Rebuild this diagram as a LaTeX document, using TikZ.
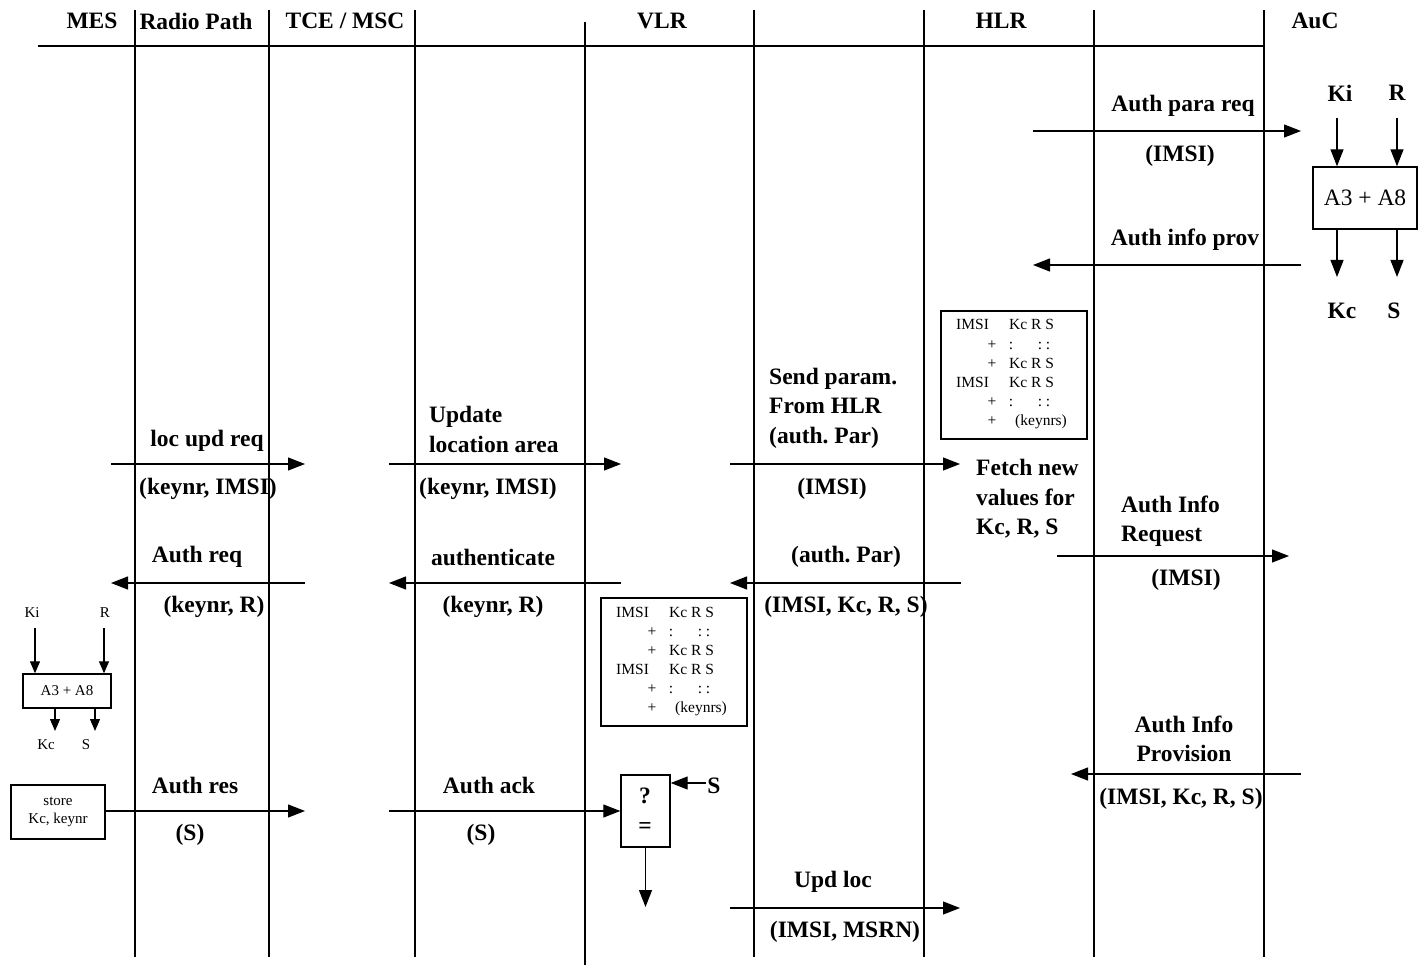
\documentclass[tikz,border=0pt]{standalone}
\usepackage{fontspec}
\setmainfont{Liberation Serif}
\usetikzlibrary{arrows.meta}
\frenchspacing
\newcommand\kctable[3]{%
 \begin{scope}[shift={(#2,#3)}]
  \node[tblbox, anchor=north west] (#1) at (0,0) {};
  \node[tbl,anchor=west] (#1a) at (16,16) {IMSI};
  \node[tbl,anchor=west] (#1b) at (69,16) {Kc R S};
  \node[tbl] (#1c) at (52,35) {+};
  \node[tbl] (#1d) at (71,35) {:};
  \node[tbl] (#1e) at (100,35) {:};
  \node[tbl] (#1f) at (108,35) {:};
  \node[tbl] (#1g) at (52,54) {+};
  \node[tbl,anchor=west] (#1h) at (69,54) {Kc R S};
  \node[tbl,anchor=west] (#1i) at (16,73) {IMSI};
  \node[tbl,anchor=west] (#1j) at (69,73) {Kc R S};
  \node[tbl] (#1k) at (52,92) {+};
  \node[tbl] (#1l) at (71,92) {:};
  \node[tbl] (#1m) at (100,92) {:};
  \node[tbl] (#1n) at (108,92) {:};
  \node[tbl] (#1o) at (52,111) {+};
  \node[tbl,anchor=west] (#1p) at (75,111) {(keynrs)};
 \end{scope}}
\begin{document}
\begin{tikzpicture}[x=1pt,y=-1pt,
  lbl/.style={font=\fontsize{23.5}{29.5}\selectfont\bfseries, inner sep=0pt, align=center},
  lbll/.style={lbl, align=left},
  reg/.style={font=\fontsize{23.5}{28}\selectfont, inner sep=0pt},
  small/.style={font=\fontsize{15}{18}\selectfont, inner sep=0pt, align=center},
  tbl/.style={font=\fontsize{15.5}{18}\selectfont, inner sep=0pt, text height=11pt, text depth=3pt},
  tblbox/.style={draw, line width=1.6pt, minimum width=146pt, minimum height=128pt, inner sep=0pt},
  box/.style={draw, line width=1.4pt, inner sep=0pt},
  msg/.style={line width=1.2pt, -{Triangle[length=17pt,width=13pt]}},
  smsg/.style={line width=1.2pt, -{Triangle[length=12pt,width=10pt]}},
  life/.style={line width=1.2pt},
  ]
\useasboundingbox (0,0) rectangle (1418,965);
% lifelines
\foreach \x/\n in {135/a,269/b,415/c,754/e,924/f,1094/g,1264/h}{
  \coordinate (top\n) at (\x,10);
  \coordinate (bot\n) at (\x,957);
  \draw[life] (top\n) -- (bot\n);
}
\coordinate (topd) at (585,22);
\coordinate (botd) at (585,965);
\draw[life] (topd) -- (botd);
\coordinate (hl0) at (38,46);
\coordinate (hl1) at (1264,46);
\draw[line width=2pt] (hl0) -- (hl1);
% headers
\node[lbl] (hmes) at (92,21) {MES};
\node[lbl] (hrad) at (196,21) {Radio Path};
\node[lbl] (htce) at (345,21) {TCE / MSC};
\node[lbl] (hvlr) at (662,21) {VLR};
\node[lbl] (hhlr) at (1001,21) {HLR};
\node[lbl] (hauc) at (1315,21) {AuC};

% AuC algorithm box
\node[box, reg, minimum width=104pt, minimum height=62pt] (auc) at (1365,198) {A3 + A8};
\node[lbl] (aki) at (1340,93) {Ki};
\node[lbl] (ar) at (1397,93) {R};
\coordinate (akin) at (1337,118);
\coordinate (arin) at (1397,118);
\draw[msg] (akin) -- (akin |- auc.north);
\draw[msg] (arin) -- (arin |- auc.north);
\coordinate (akco) at (1337,277);
\coordinate (aso) at (1397,277);
\draw[msg] (akco |- auc.south) -- (akco);
\draw[msg] (aso |- auc.south) -- (aso);
\node[lbl] (akc) at (1342,311) {Kc};
\node[lbl] (as) at (1394,311) {S};

% HLR and VLR tables
\kctable{hlrt}{940}{310}
\kctable{vlrt}{600}{597}

% MES algorithm box
\node[box, small, minimum width=88pt, minimum height=34pt] (mbox) at (67,691) {A3 + A8};
\node[small] (mki) at (32,613) {Ki};
\node[small] (mr) at (105,613) {R};
\coordinate (mkin) at (35,628);
\coordinate (mrin) at (104,628);
\draw[smsg] (mkin) -- (mkin |- mbox.north);
\draw[smsg] (mrin) -- (mrin |- mbox.north);
\coordinate (mkco) at (55,731);
\coordinate (mso) at (95,731);
\draw[smsg] (mkco |- mbox.south) -- (mkco);
\draw[smsg] (mso |- mbox.south) -- (mso);
\node[small] (mkc) at (46,745) {Kc};
\node[small] (ms) at (86,745) {S};
\node[box, small, minimum width=94pt, minimum height=54pt] (store) at (58,812) {store\\Kc, keynr};

% compare box
\node[box, minimum width=49pt, minimum height=72pt] (cmp) at (645.5,811) {};
\node[lbl] (cq) at (645,796) {?};
\node[lbl] (ceq) at (645,828) {=};
\node[lbl] (cs) at (714,786) {S};
\coordinate (csin) at (706,783);
\draw[msg] (csin) -- (csin -| cmp.east);
\coordinate (cdown) at (645.5,907);
\draw[msg] (cmp.south) -- (cdown);

% messages
\coordinate (m1a) at (1033,131); \coordinate (m1b) at (1301,131);
\draw[msg] (m1a) -- (m1b);
\node[lbl] (m1l) at (1183,106) {Auth para req};
\node[lbl] (m1p) at (1180,156) {(IMSI)};

\coordinate (m2a) at (1301,265); \coordinate (m2b) at (1033,265);
\draw[msg] (m2a) -- (m2b);
\node[lbl] (m2l) at (1185,240) {Auth info prov};

\coordinate (m3a) at (730,464); \coordinate (m3b) at (960,464);
\draw[msg] (m3a) -- (m3b);
\node[lbll, anchor=west] (m3l) at (769,408) {Send param.\\From HLR\\(auth. Par)};
\node[lbl] (m3p) at (832,489) {(IMSI)};

\node[lbll, anchor=west] (fetch) at (976,499) {Fetch new\\values for\\Kc, R, S};

\coordinate (m4a) at (1057,556); \coordinate (m4b) at (1289,556);
\draw[msg] (m4a) -- (m4b);
\node[lbll, anchor=west] (m4l) at (1121,521) {Auth Info\\Request};
\node[lbl] (m4p) at (1186,580) {(IMSI)};

\coordinate (m5a) at (111,464); \coordinate (m5b) at (305,464);
\draw[msg] (m5a) -- (m5b);
\node[lbl] (m5l) at (207,441) {loc upd req};
\node[lbl] (m5p) at (208,489) {(keynr, IMSI)};

\coordinate (m6a) at (389,464); \coordinate (m6b) at (621,464);
\draw[msg] (m6a) -- (m6b);
\node[lbll, anchor=west] (m6l) at (429,429.5) {Update\\location area};
\node[lbl] (m6p) at (488,489) {(keynr, IMSI)};

\coordinate (m7a) at (305,583); \coordinate (m7b) at (111,583);
\draw[msg] (m7a) -- (m7b);
\node[lbl] (m7l) at (197,557) {Auth req};
\node[lbl] (m7p) at (214,607) {(keynr, R)};

\coordinate (m8a) at (621,583); \coordinate (m8b) at (389,583);
\draw[msg] (m8a) -- (m8b);
\node[lbl] (m8l) at (493,557) {authenticate};
\node[lbl] (m8p) at (493,607) {(keynr, R)};

\coordinate (m9a) at (961,583); \coordinate (m9b) at (730,583);
\draw[msg] (m9a) -- (m9b);
\node[lbl] (m9l) at (846,557) {(auth. Par)};
\node[lbl] (m9p) at (846,607) {(IMSI, Kc, R, S)};

\coordinate (m10b) at (305,811);
\draw[msg] (store.east |- m10b) -- (m10b);
\node[lbl] (m10l) at (195,785) {Auth res};
\node[lbl] (m10p) at (190,835) {(S)};

\coordinate (m11a) at (389,811);
\draw[msg] (m11a) -- (m11a -| cmp.west);
\node[lbl] (m11l) at (489,785) {Auth ack};
\node[lbl] (m11p) at (481,835) {(S)};

\coordinate (m12a) at (1301,774); \coordinate (m12b) at (1071,774);
\draw[msg] (m12a) -- (m12b);
\node[lbl] (m12l) at (1184,739) {Auth Info\\Provision};
\node[lbl] (m12p) at (1181,799) {(IMSI, Kc, R, S)};

\coordinate (m13a) at (730,908); \coordinate (m13b) at (960,908);
\draw[msg] (m13a) -- (m13b);
\node[lbl] (m13l) at (833,882) {Upd loc};
\node[lbl] (m13p) at (845,932) {(IMSI, MSRN)};
\end{tikzpicture}
\end{document}
